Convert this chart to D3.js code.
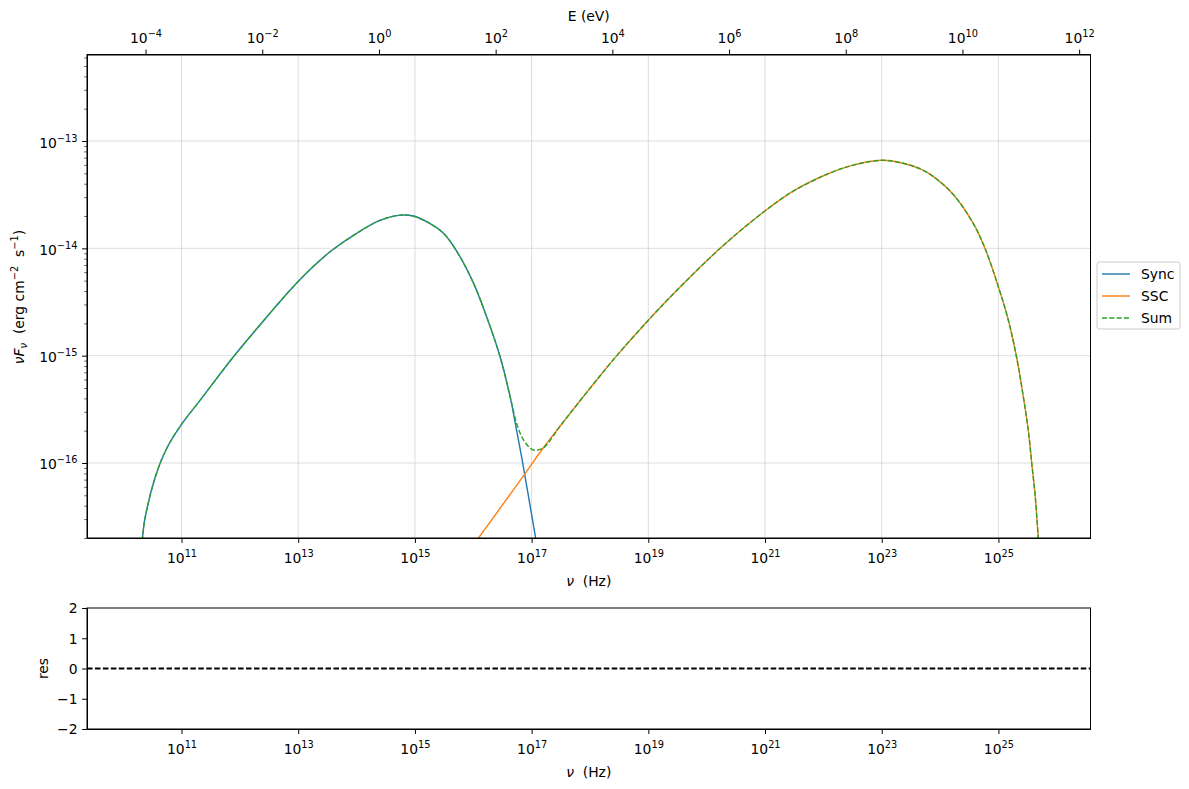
<!DOCTYPE html>
<html><head><meta charset="utf-8">
<script src="https://cdn.jsdelivr.net/npm/d3@7"></script>
<style>
body{margin:0;background:#fff}
text{font-family:"DejaVu Sans",sans-serif;fill:#000}
</style>
</head><body>
<svg id="c" width="1189" height="789"></svg>
<script>
// ---------- data ----------
const nuSync = [1.78e10,2.14e10,2.34e10,3.55e10,5.62e10,1.0e11,2.09e11,7.76e11,2.88e12,7.24e12,1.58e13,3.55e13,1.0e14,2.51e14,5.62e14,9.33e14,1.82e15,3.09e15,5.25e15,1.0e16,1.70e16,2.88e16,4.27e16,5.37e16,6.92e16,8.51e16,1.0e17,1.17e17,1.41e17];
const fluxSync = [1.0e-17,2.0e-17,2.95e-17,7.41e-17,1.38e-16,2.29e-16,3.85e-16,9.77e-16,2.29e-15,4.07e-15,6.31e-15,9.33e-15,1.38e-14,1.82e-14,2.04e-14,2.0e-14,1.70e-14,1.38e-14,9.33e-15,4.79e-15,2.29e-15,9.77e-16,4.17e-16,2.19e-16,1.05e-16,5.5e-17,3.31e-17,2.0e-17,1.0e-17];

const nuSSC = [7.94e15,1.23e16,7.94e16,1.58e17,3.09e17,1.48e18,2.88e18,1.0e19,3.09e19,1.70e20,9.55e20,3.09e21,1.15e22,3.24e22,1.0e23,2.04e23,4.57e23,7.59e23,1.70e24,3.72e24,5.89e24,1.0e25,1.48e25,2.04e25,2.51e25,3.24e25,3.72e25,4.27e25,4.79e25,5.25e25];
const fluxSSC = [1.45e-17,2.0e-17,8.13e-17,1.38e-16,2.21e-16,6.46e-16,1.0e-15,2.14e-15,4.07e-15,1.0e-14,2.19e-14,3.43e-14,4.90e-14,5.96e-14,6.61e-14,6.31e-14,5.50e-14,4.68e-14,3.16e-14,1.70e-14,1.0e-14,4.37e-15,2.14e-15,9.77e-16,5.13e-16,2.04e-16,1.0e-16,4.9e-17,2.09e-17,1.0e-17];

const nuSum = [1.78e10,2.14e10,2.34e10,3.55e10,5.62e10,1.0e11,2.09e11,7.76e11,2.88e12,7.24e12,1.58e13,3.55e13,1.0e14,2.51e14,5.62e14,9.33e14,1.82e15,3.09e15,5.25e15,1.0e16,1.70e16,2.88e16,4.27e16,5.75e16,7.59e16,1.07e17,1.58e17,2.34e17,3.09e17,1.48e18,2.88e18,1.0e19,3.09e19,1.70e20,9.55e20,3.09e21,1.15e22,3.24e22,1.0e23,2.04e23,4.57e23,7.59e23,1.70e24,3.72e24,5.89e24,1.0e25,1.48e25,2.04e25,2.51e25,3.24e25,3.72e25,4.27e25,4.79e25,5.25e25];
const fluxSum = [1.0e-17,2.0e-17,2.95e-17,7.41e-17,1.38e-16,2.29e-16,3.85e-16,9.77e-16,2.29e-15,4.07e-15,6.31e-15,9.33e-15,1.38e-14,1.82e-14,2.04e-14,2.0e-14,1.70e-14,1.38e-14,9.33e-15,4.79e-15,2.29e-15,9.77e-16,4.17e-16,2.19e-16,1.58e-16,1.32e-16,1.38e-16,1.78e-16,2.21e-16,6.46e-16,1.0e-15,2.14e-15,4.07e-15,1.0e-14,2.19e-14,3.43e-14,4.90e-14,5.96e-14,6.61e-14,6.31e-14,5.50e-14,4.68e-14,3.16e-14,1.70e-14,1.0e-14,4.37e-15,2.14e-15,9.77e-16,5.13e-16,2.04e-16,1.0e-16,4.9e-17,2.09e-17,1.0e-17];

const nuTicks = [1e11,1e13,1e15,1e17,1e19,1e21,1e23,1e25];
const eTicks = [1e-4,1e-2,1e0,1e2,1e4,1e6,1e8,1e10,1e12];
const fluxTicks = [1e-16,1e-15,1e-14,1e-13];
const resTicks = [-2,-1,0,1,2];
const seriesNames = ["Sync","SSC","Sum"];
const seriesColors = ["#1f77b4","#ff7f0e","#2ca02c"];
const hPlanck = 4.135667e-15; // eV s

// ---------- layout ----------
const L = 87, R = 1090.5, T = 54.5, B = 538;
const T2 = 608, B2 = 729;
const FS = 13.9, FSS = 9.8, LW = 1.4;
const svg = d3.select("#c");

const x = d3.scaleLog().domain([Math.pow(10,9.38), Math.pow(10,26.578)]).range([L,R]);
const xE = d3.scaleLog().domain([x.domain()[0]*hPlanck, x.domain()[1]*hPlanck]).range([L,R]);
const y = d3.scaleLog().domain([2e-17, 6.4e-13]).range([B,T]);
const yr = d3.scaleLinear().domain([-2,2]).range([B2,T2]);

function supLabel(sel, base){
  sel.each(function(d){
    const e = Math.round(Math.log10(d));
    const t = d3.select(this);
    t.text(null);
    t.append("tspan").text(base);
    t.append("tspan").attr("font-size",FSS).attr("dy",-6).text(e<0 ? "\u2212"+(-e) : String(e));
  });
}

// grid (main)
const grid = svg.append("g");
grid.selectAll("line.v").data(nuTicks).join("line")
  .attr("x1",d=>x(d)).attr("x2",d=>x(d)).attr("y1",T).attr("y2",B)
  .attr("stroke","#d4d4d4").attr("stroke-width",0.8);
grid.selectAll("line.h").data(fluxTicks).join("line")
  .attr("x1",L).attr("x2",R).attr("y1",d=>y(d)).attr("y2",d=>y(d))
  .attr("stroke","#d4d4d4").attr("stroke-width",0.8);

// clip
svg.append("clipPath").attr("id","clipMain").append("rect")
  .attr("x",L).attr("y",T).attr("width",R-L).attr("height",B-T);

const line = d3.line().x(d=>x(d[0])).y(d=>y(d[1])).curve(d3.curveCatmullRom.alpha(0.5));
const curves = svg.append("g").attr("clip-path","url(#clipMain)");
curves.append("path").datum(d3.zip(nuSync,fluxSync)).attr("d",line)
  .attr("fill","none").attr("stroke",seriesColors[0]).attr("stroke-width",LW);
curves.append("path").datum(d3.zip(nuSSC,fluxSSC)).attr("d",line)
  .attr("fill","none").attr("stroke",seriesColors[1]).attr("stroke-width",LW);
curves.append("path").datum(d3.zip(nuSum,fluxSum)).attr("d",line)
  .attr("fill","none").attr("stroke",seriesColors[2]).attr("stroke-width",LW)
  .attr("stroke-dasharray","5.1,2.2");

// axes main
const tickLen = 4.9;
const gxB = svg.append("g").attr("transform",`translate(0,${B})`)
  .call(d3.axisBottom(x).tickValues(nuTicks).tickSize(tickLen).tickSizeOuter(0));
gxB.selectAll(".tick text").attr("y",25).attr("dy",null).attr("font-size",FS).call(supLabel,"10");

const gxT = svg.append("g").attr("transform",`translate(0,${T})`)
  .call(d3.axisTop(xE).tickValues(eTicks).tickSize(tickLen).tickSizeOuter(0));
gxT.selectAll(".tick text").attr("y",-12).attr("dy",null).attr("font-size",FS).call(supLabel,"10");

const minorY = [];
for (let k=-17;k<=-13;k++) for (let m=2;m<=9;m++){ const v=m*Math.pow(10,k); if(v>=2e-17 && v<=6.4e-13) minorY.push(v); }
svg.append("g").attr("transform",`translate(${L},0)`)
  .call(d3.axisLeft(y).tickValues(minorY).tickSize(2.8).tickFormat(""))
  .call(g=>g.select(".domain").remove())
  .selectAll(".tick line").attr("stroke-width",0.6);
const gyL = svg.append("g").attr("transform",`translate(${L},0)`)
  .call(d3.axisLeft(y).tickValues(fluxTicks).tickSize(tickLen).tickSizeOuter(0));
gyL.selectAll(".tick text").attr("x",-9.5).attr("dy",null).attr("y",6).attr("font-size",FS).call(supLabel,"10");

// frame main
svg.append("rect").attr("x",L).attr("y",T).attr("width",R-L).attr("height",B-T)
  .attr("fill","none").attr("stroke","#000").attr("stroke-width",1);
svg.selectAll(".domain").attr("stroke","#000");

// labels main
svg.append("text").attr("x",(L+R)/2).attr("y",21).attr("text-anchor","middle").attr("font-size",FS).text("E (eV)");
const xl = svg.append("text").attr("x",(L+R)/2).attr("y",586).attr("text-anchor","middle").attr("font-size",FS);
xl.append("tspan").attr("font-style","italic").text("\u03bd");
xl.append("tspan").text("\u00a0\u00a0(Hz)");

const yl = svg.append("text").attr("transform","translate(24,297) rotate(-90)").attr("text-anchor","middle").attr("font-size",FS);
yl.append("tspan").attr("font-style","italic").text("\u03bdF");
yl.append("tspan").attr("font-style","italic").attr("font-size",FSS).attr("dy",3).text("\u03bd");
yl.append("tspan").attr("dy",-3).text("\u00a0\u00a0(erg cm");
yl.append("tspan").attr("font-size",FSS).attr("dy",-6).text("\u22122");
yl.append("tspan").attr("dy",6).text("\u00a0\u00a0s");
yl.append("tspan").attr("font-size",FSS).attr("dy",-6).text("\u22121");
yl.append("tspan").attr("dy",6).text(")");

// legend
const lg = svg.append("g");
lg.append("rect").attr("x",1097).attr("y",262).attr("width",83).attr("height",67)
  .attr("rx",2.5).attr("fill","#fff").attr("fill-opacity",0.8).attr("stroke","#cccccc").attr("stroke-width",1);
seriesNames.forEach((n,i)=>{
  const yy = 274 + i*22;
  lg.append("line").attr("x1",1102).attr("x2",1130).attr("y1",yy).attr("y2",yy)
    .attr("stroke",seriesColors[i]).attr("stroke-width",LW)
    .attr("stroke-dasharray", n==="Sum" ? "5.1,2.2" : null);
  lg.append("text").attr("x",1141).attr("y",yy+5).attr("font-size",FS).text(n);
});

// ---------- residual panel ----------
const gx2 = svg.append("g").attr("transform",`translate(0,${B2})`)
  .call(d3.axisBottom(x).tickValues(nuTicks).tickSize(tickLen).tickSizeOuter(0));
gx2.selectAll(".tick text").attr("y",25).attr("dy",null).attr("font-size",FS).call(supLabel,"10");
const gy2 = svg.append("g").attr("transform",`translate(${L},0)`)
  .call(d3.axisLeft(yr).tickValues(resTicks).tickSize(tickLen).tickSizeOuter(0)
    .tickFormat(d=> d<0 ? "\u2212"+(-d) : String(d)));
gy2.selectAll(".tick text").attr("x",-9.5).attr("dy","0.35em").attr("font-size",FS);
svg.append("line").attr("x1",L).attr("x2",R).attr("y1",yr(0)).attr("y2",yr(0))
  .attr("stroke","#000").attr("stroke-width",1.8).attr("stroke-dasharray","5.55,2.4");
svg.append("rect").attr("x",L).attr("y",T2).attr("width",R-L).attr("height",B2-T2)
  .attr("fill","none").attr("stroke","#000").attr("stroke-width",1);
svg.append("text").attr("transform",`translate(48,${yr(0)}) rotate(-90)`).attr("text-anchor","middle").attr("font-size",FS).text("res");
const xl2 = svg.append("text").attr("x",(L+R)/2).attr("y",777).attr("text-anchor","middle").attr("font-size",FS);
xl2.append("tspan").attr("font-style","italic").text("\u03bd");
xl2.append("tspan").text("\u00a0\u00a0(Hz)");

svg.selectAll(".tick line").attr("stroke","#000");
svg.selectAll(".domain").attr("stroke-width",1);
svg.selectAll("g text").attr("font-family","DejaVu Sans, sans-serif");
</script>
</body></html>
